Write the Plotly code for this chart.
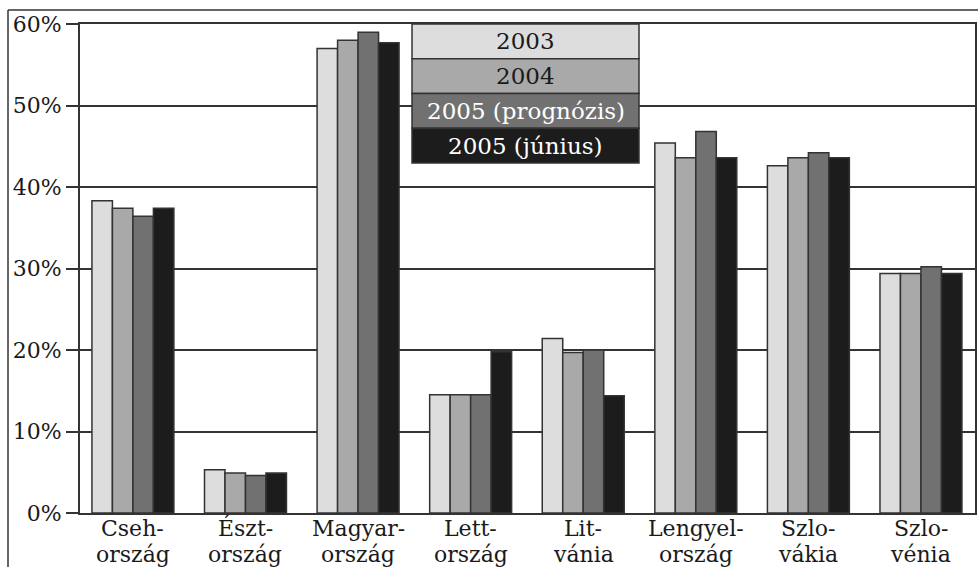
import plotly.graph_objects as go

# Countries (x categories) and their two-line labels
countries = ["Csehország", "Észtország", "Magyarország", "Lettország",
             "Litvánia", "Lengyelország", "Szlovákia", "Szlovénia"]
label_top = ["Cseh-", "Észt-", "Magyar-", "Lett-", "Lit-", "Lengyel-", "Szlo-", "Szlo-"]
label_bottom = ["ország", "ország", "ország", "ország", "vánia", "ország", "vákia", "vénia"]

# Series (percent)
series_names = ["2003", "2004", "2005 (prognózis)", "2005 (június)"]
v2003 = [38.3, 5.3, 57.0, 14.5, 21.4, 45.4, 42.6, 29.4]
v2004 = [37.4, 4.9, 58.0, 14.5, 19.7, 43.6, 43.6, 29.4]
v2005_prog = [36.4, 4.6, 59.0, 14.5, 20.0, 46.8, 44.2, 30.2]
v2005_jun = [37.4, 4.9, 57.7, 19.8, 14.4, 43.6, 43.6, 29.4]

y_ticks = [0, 10, 20, 30, 40, 50, 60]
y_tick_text = [f"{v}%" for v in y_ticks]

colors = ["#dddddd", "#a9a9a9", "#717171", "#1c1c1c"]
text_colors = ["#1a1a1a", "#1a1a1a", "#ffffff", "#ffffff"]
edge = "#333333"
serif = "DejaVu Serif"

W, H = 978, 567
ML, MR, MT, MB = 80, 3, 24, 54
plot_w = W - ML - MR
plot_h = H - MT - MB

fig = go.Figure()
for name, vals, col in zip(series_names, [v2003, v2004, v2005_prog, v2005_jun], colors):
    fig.add_trace(go.Bar(
        x=countries, y=vals, name=name,
        marker=dict(color=col, line=dict(color=edge, width=1.5)),
        showlegend=False,
    ))

fig.update_layout(
    width=W, height=H,
    margin=dict(l=ML, r=MR, t=MT, b=MB, autoexpand=False),
    paper_bgcolor="white", plot_bgcolor="white",
    barmode="group", bargap=0.272, bargroupgap=0,
    font=dict(family=serif, color="#1a1a1a"),
)

fig.update_xaxes(
    range=[-0.47, 7.48], showticklabels=False, ticks="",
    showline=True, linecolor=edge, linewidth=2, mirror=True,
    showgrid=False, zeroline=False,
)
fig.update_yaxes(
    range=[0, 60], tickmode="array", tickvals=y_ticks, ticktext=y_tick_text,
    ticks="outside", ticklen=12, tickcolor=edge, tickwidth=1.5,
    tickfont=dict(family=serif, size=22, color="#1a1a1a"),
    showgrid=True, gridcolor=edge, gridwidth=1.5,
    showline=True, linecolor=edge, linewidth=2, mirror=True,
    zeroline=False,
)


def px_x(p):
    return (p - ML) / plot_w


def px_y(p):
    return ((H - MB) - p) / plot_h


# Two-line category labels under the axis
for c, t, b in zip(countries, label_top, label_bottom):
    fig.add_annotation(x=c, xref="x", y=px_y(528), yref="paper",
                       text=t, showarrow=False, yanchor="middle",
                       font=dict(family=serif, size=22, color="#1a1a1a"))
    fig.add_annotation(x=c, xref="x", y=px_y(554), yref="paper",
                       text=b, showarrow=False, yanchor="middle",
                       font=dict(family=serif, size=22, color="#1a1a1a"))

# Stacked-box legend
lx0, lx1 = px_x(412), px_x(639)
row_h = 34.75
top = 24
for i, (name, col, tc) in enumerate(zip(series_names, colors, text_colors)):
    y0 = top + i * row_h
    y1 = y0 + row_h
    fig.add_shape(type="rect", xref="paper", yref="paper",
                  x0=lx0, x1=lx1, y0=px_y(y1), y1=px_y(y0),
                  fillcolor=col, line=dict(color=edge, width=1.5), layer="above")
    fig.add_annotation(x=(lx0 + lx1) / 2, y=px_y((y0 + y1) / 2), xref="paper", yref="paper",
                       text=name, showarrow=False, xanchor="center", yanchor="middle",
                       font=dict(family=serif, size=23, color=tc))

# Outer frame (top and left edges)
fig.add_shape(type="line", xref="paper", yref="paper",
              x0=px_x(8), x1=px_x(W + 2), y0=px_y(10), y1=px_y(10),
              line=dict(color=edge, width=1.5))
fig.add_shape(type="line", xref="paper", yref="paper",
              x0=px_x(8), x1=px_x(8), y0=px_y(10), y1=px_y(H + 2),
              line=dict(color=edge, width=1.5))

fig.write_html("out.html")
